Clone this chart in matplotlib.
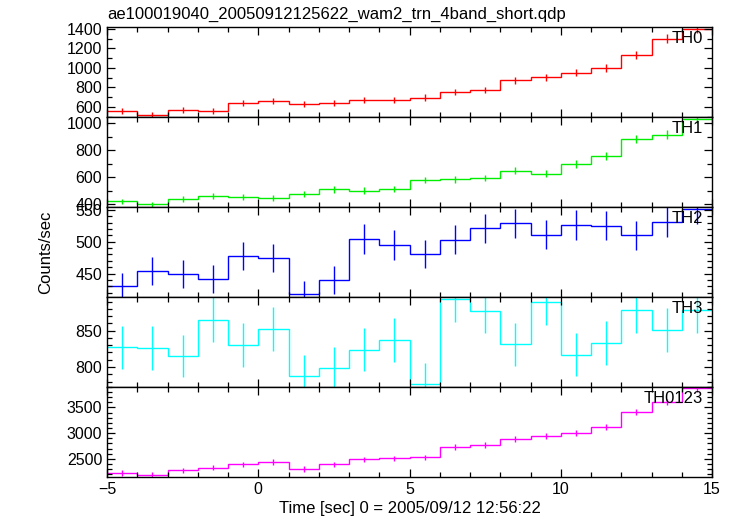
import matplotlib
matplotlib.use("Agg")
import matplotlib.pyplot as plt
from matplotlib.ticker import MultipleLocator
import numpy as np

plt.rcParams['font.family'] = ['Liberation Sans', 'DejaVu Sans']

title = "ae100019040_20050912125622_wam2_trn_4band_short.qdp"
xlabel = "Time [sec] 0 = 2005/09/12 12:56:22"
ylabel = "Counts/sec"

edges = list(range(-5, 16))

th0 = [556, 521, 569, 562, 638, 662, 628, 638, 669, 669,
       695, 754, 774, 874, 905, 952, 997, 1137, 1301, 1400]
th0_err = [30, 30, 31, 31, 32, 32, 31, 32, 32, 32,
           33, 34, 34, 36, 37, 38, 39, 41, 44, 46]

th1 = [422, 400, 442, 459, 455, 447, 477, 511, 503, 514,
       580, 585, 595, 649, 627, 698, 760, 883, 917, 1032]
th1_err = [21, 20, 21, 22, 22, 21, 22, 23, 23, 23,
           24, 24, 25, 26, 25, 27, 28, 30, 31, 33]

th2 = [430, 454, 449, 442, 477, 475, 418, 440, 504, 495,
       481, 503, 521, 529, 511, 526, 525, 510, 531, 552]
th2_err = [21, 22, 22, 22, 22, 22, 21, 22, 23, 23,
           22, 23, 23, 23, 23, 23, 23, 23, 23, 24]

th3 = [827, 826, 815, 865, 830, 852, 787, 798, 824, 837,
       776, 893, 877, 831, 889, 817, 833, 878, 851, 878]
th3_err = [30, 30, 29, 31, 30, 30, 29, 29, 30, 30,
           29, 31, 30, 30, 31, 30, 30, 31, 30, 31]

th0123 = [2229, 2196, 2281, 2332, 2397, 2442, 2306, 2397, 2494, 2513,
          2533, 2738, 2771, 2882, 2940, 2998, 3120, 3405, 3604, 3869]
th0123_err = [50, 50, 51, 51, 52, 52, 51, 52, 53, 53,
              53, 55, 55, 56, 57, 57, 59, 61, 63, 65]

names = ["TH0", "TH1", "TH2", "TH3", "TH0123"]
series = [th0, th1, th2, th3, th0123]
errors = [th0_err, th1_err, th2_err, th3_err, th0123_err]
colors = ["#ff0000", "#00ee00", "#0000ff", "#00ffff", "#ff00ff"]
ylims = [(500, 1417), (381, 1049), (413.8, 554.4), (772.9, 896.8), (2157, 3900)]
majors = [200, 200, 50, 50, 500]
minors = [100, 100, 10, 10, 100]

W, H = 733, 516
fig = plt.figure(figsize=(W / 100, H / 100), dpi=100)
bounds = [27.3, 116.7, 207.0, 296.7, 386.7, 476.7]
left, right = 107, 712

centers = [(edges[i] + edges[i + 1]) / 2 for i in range(len(edges) - 1)]

axes = []
for i in range(5):
    top_px, bot_px = bounds[i], bounds[i + 1]
    ax = fig.add_axes([left / W, 1 - bot_px / H, (right - left) / W, (bot_px - top_px) / H])
    axes.append(ax)
    ax.stairs(series[i], edges, color=colors[i], lw=1.0, baseline=None)
    ax.errorbar(centers, series[i], yerr=errors[i], fmt='none', ecolor=colors[i], elinewidth=1.0, capsize=0)
    ax.set_xlim(-5, 15)
    ax.set_ylim(*ylims[i])
    ax.xaxis.set_major_locator(MultipleLocator(5))
    ax.xaxis.set_minor_locator(MultipleLocator(1))
    ax.yaxis.set_major_locator(MultipleLocator(majors[i]))
    ax.yaxis.set_minor_locator(MultipleLocator(minors[i]))
    ax.tick_params(which='both', direction='in', top=True, right=True, labelsize=11.5, width=0.9)
    ax.tick_params(which='major', length=6)
    ax.tick_params(which='minor', length=3.5)
    for s in ax.spines.values():
        s.set_linewidth(1.0)
    if i < 4:
        ax.tick_params(labelbottom=False)
    ax.text(0.985, 0.955, names[i], transform=ax.transAxes, ha='right', va='top', fontsize=12)

axes[0].set_title(title, loc='left', fontsize=12, pad=6)
axes[-1].set_xlabel(xlabel, fontsize=12, labelpad=3)
fig.text(46 / W, 1 - 252 / H, ylabel, rotation=90, ha='center', va='center', fontsize=12)

fig.savefig("out.png", dpi=100)
